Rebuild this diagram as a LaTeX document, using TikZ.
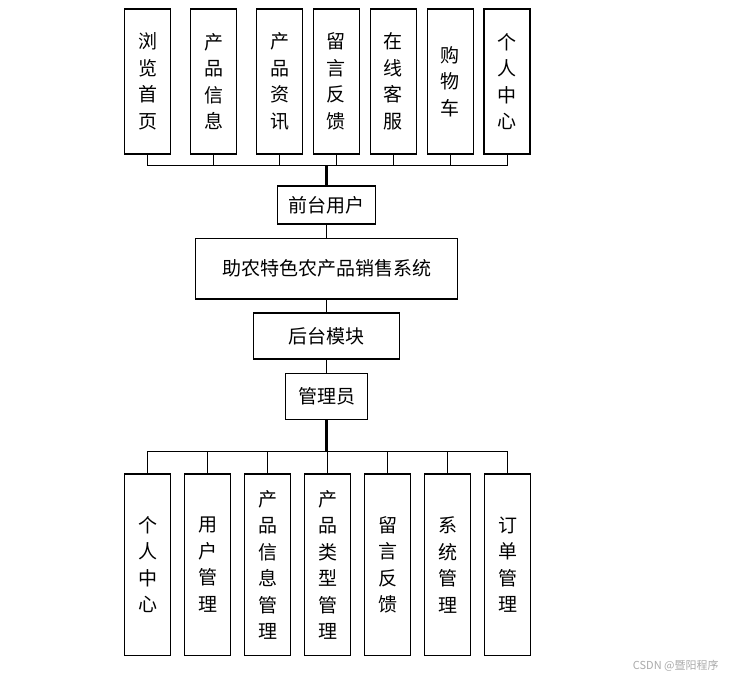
\documentclass[tikz,border=0pt]{standalone}
\usepackage{fontspec}
\setmainfont{Noto Sans CJK SC}
\usetikzlibrary{positioning}
\definecolor{markGray}{HTML}{AAAAAA}
\tikzset{
  box/.style={draw=black, line width=1.2pt, fill=white, inner sep=0pt, align=center,
              font=\fontsize{19}{26.5}\selectfont},
  colbox/.style={box, minimum width=46pt, minimum height=#1},
  colbox/.default=145pt,
  link/.style={line width=1pt},
  trunk/.style={line width=3pt},
}
\begin{document}
\begin{tikzpicture}[x=1pt,y=-1pt]
\useasboundingbox (0,0) rectangle (743,681);
% front-end modules
\foreach \i/\x/\lbl in {1/147.7/{浏\\览\\首\\页}, 2/213.7/{产\\品\\信\\息}, 3/279.5/{产\\品\\资\\讯},
                        4/336.3/{留\\言\\反\\馈}, 5/393.3/{在\\线\\客\\服}, 6/450.3/{购\\物\\车},
                        7/507.0/{个\\人\\中\\心}}{
  \node[colbox=145pt] (t\i) at (\x,81.5) {\lbl};
}
% centre column
\node[box, minimum width=97.6pt, minimum height=38pt] (front) at (326.5,205) {前台用户};
\node[box, minimum width=261.6pt, minimum height=60.7pt] (sys) at (326.5,268.7) {助农特色农产品销售系统};
\node[box, minimum width=145.3pt, minimum height=46pt] (back) at (326.5,336) {后台模块};
\node[box, minimum width=82.4pt, minimum height=46pt] (admin) at (326.5,396.3) {管理员};
% back-end modules
\foreach \i/\lbl in {1/{个\\人\\中\\心}, 2/{用\\户\\管\\理}, 3/{产\\品\\信\\息\\管\\理},
                     4/{产\\品\\类\\型\\管\\理}, 5/{留\\言\\反\\馈}, 6/{系\\统\\管\\理},
                     7/{订\\单\\管\\理}}{
  \node[colbox=181.7pt] (b\i) at ({147.7+60*(\i-1)},564.8) {\lbl};
}
% buses
\coordinate (ubus) at (326.5,165.7);
\coordinate (lbus) at (326.5,451.7);
\foreach \i in {1,...,7}{
  \draw[link] (t\i.south) |- (ubus);
  \draw[link] (lbus) -| (b\i.north);
}
\draw[trunk] (ubus) -- (front.north);
\draw[link] (front) -- (sys);
\draw[link] (sys) -- (back);
\draw[link] (back) -- (admin);
\draw[trunk] (admin.south) -- (lbus);
\node[anchor=west, inner sep=0pt, text=markGray, font=\fontsize{11}{13}\selectfont] (mark) at (632.7,665.7) {CSDN @暨阳程序};
\end{tikzpicture}
\end{document}
